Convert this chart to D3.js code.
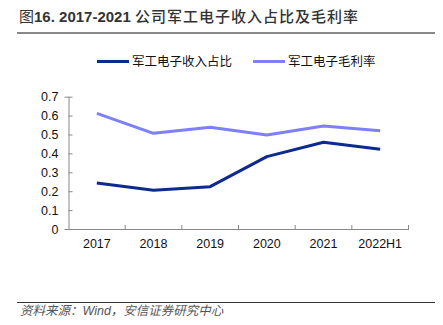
<!DOCTYPE html>
<html>
<head>
<meta charset="utf-8">
<script src="https://cdn.jsdelivr.net/npm/d3@7"></script>
<style>
  body { margin: 0; background: #fff; }
  text { font-family: "Liberation Sans", Arial, "Noto Sans CJK SC", sans-serif; }
</style>
</head>
<body>
<script>
const w = 443;
const h = 325;

const years = ["2017", "2018", "2019", "2020", "2021", "2022H1"];
const revenueShare = [0.243, 0.205, 0.224, 0.383, 0.459, 0.422];
const grossMargin = [0.612, 0.506, 0.538, 0.497, 0.545, 0.520];
const yTicks = [0, 0.1, 0.2, 0.3, 0.4, 0.5, 0.6, 0.7];

const seriesNames = ["军工电子收入占比", "军工电子毛利率"];
const colors = ["#0d2a8e", "#7f7ffc"];

const svg = d3.select("body").append("svg")
  .attr("width", w)
  .attr("height", h);

// title + rule
const title = svg.append("text")
  .attr("x", 19).attr("y", 22)
  .attr("font-size", "15px")
  .attr("fill", "#333");
title.append("tspan").attr("font-family", "'Noto Sans CJK SC', sans-serif").text("图");
title.append("tspan").attr("font-weight", "bold").text("16. 2017-2021 ");
title.append("tspan").attr("font-family", "'Noto Sans CJK SC', sans-serif")
  .attr("font-weight", 500)
  .attr("letter-spacing", "1px")
  .text("公司军工电子收入占比及毛利率");
svg.append("line")
  .attr("x1", 17).attr("x2", 435)
  .attr("y1", 33).attr("y2", 33)
  .attr("stroke", "#111").attr("stroke-width", 1);

// scales
const x = d3.scaleBand().domain(years).range([68.5, 408.5]);
const y = d3.scaleLinear().domain([0, 0.7]).range([229, 96.7]);

// axes
const yAxis = svg.append("g")
  .attr("transform", "translate(68.5,0)")
  .call(d3.axisLeft(y).tickValues(yTicks).tickSize(4).tickFormat(d => d === 0 ? "0" : d3.format(".1f")(d)));
yAxis.select(".domain").attr("stroke", "#888");
yAxis.selectAll(".tick line").attr("stroke", "#888").attr("x1", 0).attr("x2", 4);
yAxis.selectAll("text").attr("x", -10).attr("font-size", "12.5px").attr("fill", "#111")
  .attr("font-family", "'Liberation Sans', Arial, sans-serif");

const xAxis = svg.append("g")
  .attr("transform", "translate(0,229)")
  .call(d3.axisBottom(x).tickSize(0).tickPadding(10));
xAxis.select(".domain").attr("stroke", "#888");
xAxis.selectAll("text").attr("font-size", "12.5px").attr("fill", "#111")
  .attr("font-family", "'Liberation Sans', Arial, sans-serif");

// band boundary ticks
const bounds = years.map(d => x(d)).concat([x.range()[1]]);
svg.append("g").selectAll("line")
  .data(bounds.slice(1))
  .enter().append("line")
  .attr("x1", d => d).attr("x2", d => d)
  .attr("y1", 229).attr("y2", 225)
  .attr("stroke", "#888");

// lines
const line = d3.line()
  .x((d, i) => x(years[i]) + x.bandwidth() / 2)
  .y(d => y(d));

[revenueShare, grossMargin].forEach((vals, i) => {
  svg.append("path")
    .datum(vals)
    .attr("d", line)
    .attr("fill", "none")
    .attr("stroke", colors[i])
    .attr("stroke-width", 3)
    .attr("stroke-linejoin", "round");
});

// legend
const legendX = [97, 253];
seriesNames.forEach((name, i) => {
  svg.append("line")
    .attr("x1", legendX[i]).attr("x2", legendX[i] + 32)
    .attr("y1", 61.5).attr("y2", 61.5)
    .attr("stroke", colors[i]).attr("stroke-width", 3);
  svg.append("text")
    .attr("x", legendX[i] + 35).attr("y", 66)
    .attr("font-size", "12.5px")
    .attr("fill", "#111")
    .attr("font-family", "'Noto Sans CJK SC', sans-serif")
    .text(name);
});

// source
svg.append("line")
  .attr("x1", 17).attr("x2", 435)
  .attr("y1", 302.5).attr("y2", 302.5)
  .attr("stroke", "#333").attr("stroke-width", 1);
svg.append("text")
  .attr("x", 20).attr("y", 315)
  .attr("font-size", "12.5px")
  .attr("font-style", "italic")
  .attr("fill", "#555")
  .text("资料来源：Wind，安信证券研究中心");
</script>
</body>
</html>
